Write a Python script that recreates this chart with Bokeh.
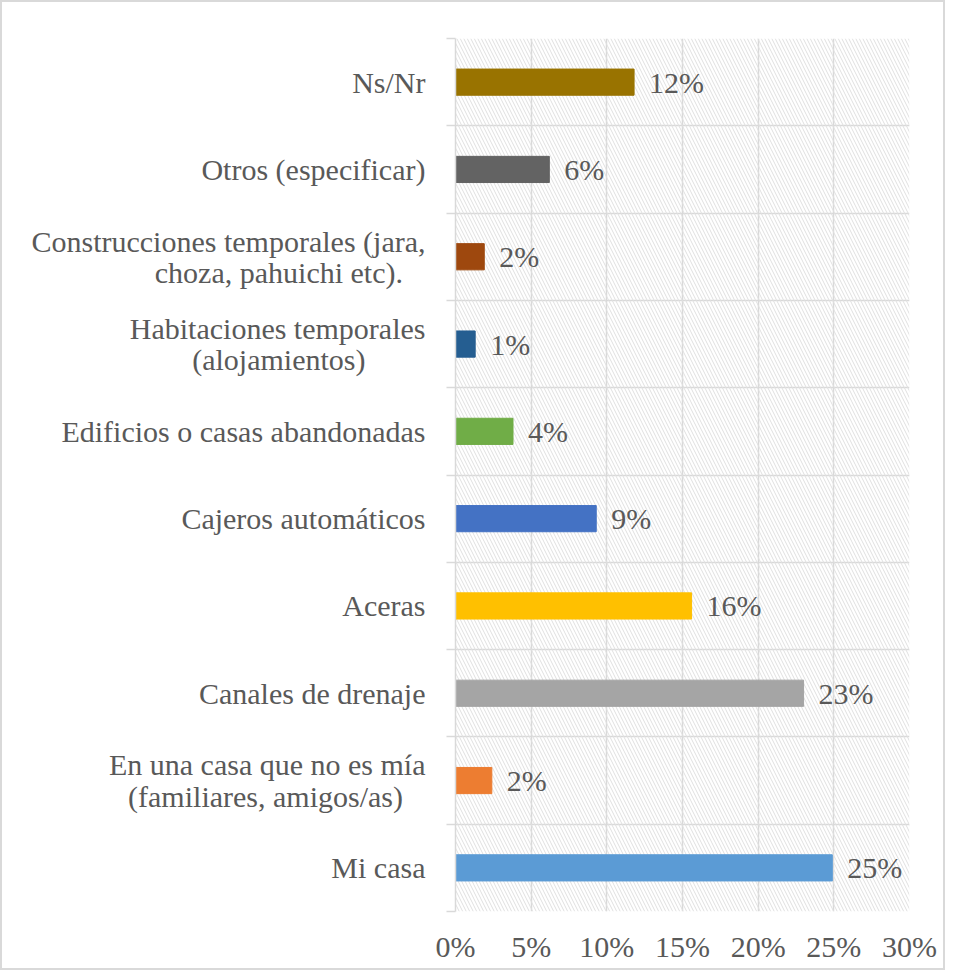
from bokeh.plotting import figure
from bokeh.models import ColumnDataSource, FixedTicker, BoxAnnotation, LinearAxis
from bokeh.core.properties import value
from bokeh.embed import file_html
from bokeh.resources import INLINE

NB = "\u00a0"

# Data (bottom to top)
categories = [
    "Mi casa",
    "En una casa que no es mía\n(familiares, amigos/as)" + NB * 3,
    "Canales de drenaje",
    "Aceras",
    "Cajeros automáticos",
    "Edificios o casas abandonadas",
    "Habitaciones temporales\n(alojamientos)" + NB * 8,
    "Construcciones temporales (jara,\nchoza, pahuichi etc)." + NB * 3,
    "Otros (especificar)",
    "Ns/Nr",
]
values = [24.9, 2.4, 23.0, 15.6, 9.3, 3.8, 1.3, 1.9, 6.2, 11.8]
colors = ["#5b9bd5", "#ed7d31", "#a5a5a5", "#ffc000", "#4472c4",
          "#70ad47", "#255e91", "#9e480e", "#636363", "#997300"]
x_ticks = [0, 5, 10, 15, 20, 25, 30]

FONT = "Liberation Serif"
GRAY_TXT = "#595959"
GRID = "#d9d9d9"
FS = "30px"

n = len(categories)
centers = [i + 0.5 for i in range(n)]
bounds = list(range(n + 1))

src = ColumnDataSource(dict(
    y=centers, v=values, c=colors,
    lbl=[f"{round(v)}%" for v in values],
))

p = figure(width=945, height=970, x_range=(0, 30), y_range=(0, n),
           output_backend="svg", toolbar_location=None,
           min_border_left=453, min_border_right=38,
           min_border_top=36, min_border_bottom=61,
           x_axis_location=None, y_axis_location=None)
p.styles = {"border": "2px solid #d9d9d9"}
p.outline_line_color = None
p.background_fill_color = "white"

# hatched background of plot area
p.add_layout(BoxAnnotation(fill_color=None, line_color=None,
                           hatch_pattern="\\", hatch_color="#e0e0e0",
                           hatch_scale=7, hatch_weight=1, level="underlay"))

p.hbar(y="y", right="v", left=0, height=0.3, color="c", source=src)
p.text(x="v", y="y", text="lbl", source=src, x_offset=15,
       text_align="left", text_baseline="middle",
       text_font=value(FONT), text_font_size=FS, text_color=GRAY_TXT)

# grids
p.xgrid.ticker = FixedTicker(ticks=x_ticks)
p.ygrid.ticker = FixedTicker(ticks=bounds)
for g in (p.xgrid, p.ygrid):
    g.grid_line_color = GRID
    g.grid_line_width = 1.5
    g.level = "underlay"

# x axis
xax = LinearAxis(ticker=FixedTicker(ticks=x_ticks))
xax.major_label_overrides = {t: f"{t}%" for t in x_ticks}
xax.axis_line_color = None
xax.major_tick_line_color = None
xax.minor_tick_line_color = None
xax.major_label_standoff = 12
xax.major_label_text_font = FONT
xax.major_label_text_font_size = FS
xax.major_label_text_color = GRAY_TXT
p.add_layout(xax, "below")

# y axis
yax = LinearAxis(ticker=FixedTicker(ticks=centers, minor_ticks=bounds))
yax.major_label_overrides = {c: lab for c, lab in zip(centers, categories)}
yax.axis_line_color = GRID
yax.axis_line_width = 1.5
yax.major_tick_line_color = None
yax.minor_tick_line_color = GRID
yax.minor_tick_line_width = 1.5
yax.minor_tick_out = 9
yax.minor_tick_in = 0
yax.major_label_standoff = 21
yax.major_label_text_font = FONT
yax.major_label_text_font_size = FS
yax.major_label_text_color = GRAY_TXT
yax.major_label_text_line_height = 0.95
p.add_layout(yax, "left")

open("out.html", "w").write(file_html(p, INLINE))
